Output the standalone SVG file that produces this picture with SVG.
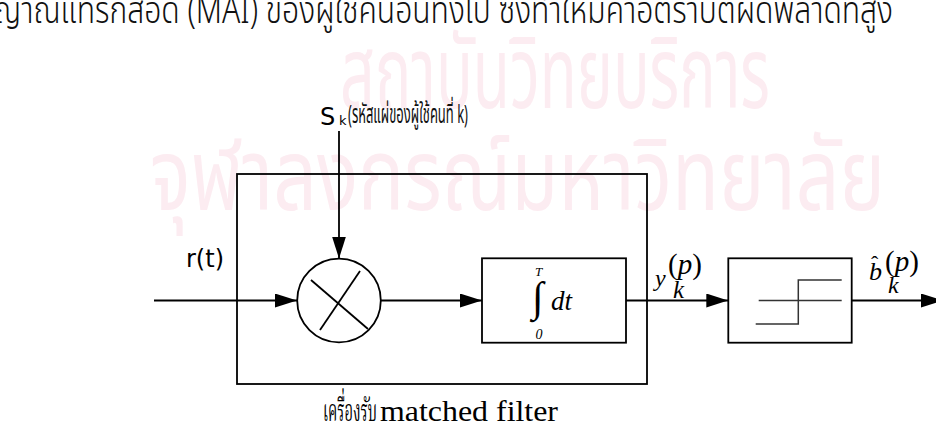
<svg xmlns="http://www.w3.org/2000/svg" width="936" height="442" viewBox="0 0 936 442">
<style>
.ln{stroke:#000;stroke-width:1.8;fill:none}
.bx{stroke:#000;stroke-width:1.8;fill:none}
.th{stroke:#333;stroke-width:1.5;fill:none}
.wm{fill:#fcecf1;font-family:"Noto Sans Thai","Noto Sans",sans-serif}
.sans{font-family:"DejaVu Sans","Noto Sans Thai",sans-serif;fill:#000}
.thai{font-family:"Noto Sans Thai","Noto Sans","DejaVu Sans",sans-serif;fill:#111}
.math{font-family:"Liberation Serif","Times New Roman",serif;font-style:italic;fill:#000}
.serif{font-family:"Liberation Serif","Noto Serif Thai","Times New Roman",serif;fill:#000}
</style>
<defs>
<marker id="ar" markerUnits="userSpaceOnUse" markerWidth="22" markerHeight="14" refX="22" refY="7" orient="auto">
<path d="M0,0 L22,7 L0,14 Z" fill="#000"/>
</marker>
</defs>
<rect width="936" height="442" fill="#fff"/>
<g id="watermark">
<text class="wm" x="340" y="108" font-size="100" textLength="430" lengthAdjust="spacingAndGlyphs">สถาบันวิทยบริการ</text>
<text class="wm" x="150" y="210" font-size="100" textLength="735" lengthAdjust="spacingAndGlyphs">จุฬาลงกรณ์มหาวิทยาลัย</text>
</g>
<text class="thai" x="-6" y="23" font-size="38" font-weight="300" textLength="899" lengthAdjust="spacingAndGlyphs">ญาณแทรกสอด (MAI) ของผู้ใช้คนอื่นทั้งไป ซึ่งทำให้มีค่าอัตราบิตผิดพลาดที่สูง</text>
<g id="label-sk">
<text class="sans" x="320" y="125" font-size="24">S</text>
<text class="sans" x="339" y="125" font-size="13">k</text>
<text class="thai" x="348" y="123" font-size="26" textLength="120" lengthAdjust="spacingAndGlyphs">(รหัสแผ่ของผู้ใช้คนที่ k)</text>
</g>
<g id="label-rt"><text class="sans" x="186" y="267" font-size="24">r(t)</text></g>
<g id="receiver">
<rect class="bx" x="237" y="174" width="410" height="210"/>
</g>
<g id="multiplier">
<circle class="bx" cx="339" cy="300.5" r="41.8"/>
<line class="ln" x1="311" y1="280" x2="368" y2="329" stroke-width="1.3"/>
<line class="ln" x1="360" y1="271" x2="320" y2="330" stroke-width="1.3"/>
</g>
<g id="integrator">
<rect class="bx" x="482" y="258.3" width="144" height="84.4"/>
<text class="math" x="535" y="276" font-size="13">T</text>
<text class="serif" x="532" y="311" font-size="42">∫</text>
<text class="math" x="551" y="310" font-size="27">dt</text>
<text class="math" x="535.5" y="339" font-size="14">0</text>
</g>
<g id="threshold">
<rect class="bx" x="728.3" y="258.3" width="123.4" height="84.4"/>
<line class="th" x1="758.7" y1="300.5" x2="841.7" y2="300.5"/>
<path class="th" d="M755.7,324 H798.3 V280 H841.7"/>
</g>
<g id="label-y">
<text class="math" x="655" y="286" font-size="24">y</text>
<text class="serif" x="668" y="274" font-size="29">(<tspan font-style="italic">p</tspan>)</text>
<text class="math" x="673" y="298" font-size="25">k</text>
</g>
<g id="label-b">
<text class="math" x="869" y="280" font-size="26">b</text>
<text class="serif" x="871" y="271" font-size="22">ˆ</text>
<text class="serif" x="885" y="271" font-size="29">(<tspan font-style="italic">p</tspan>)</text>
<text class="math" x="888" y="293" font-size="24">k</text>
</g>
<g id="connectors">
<path class="ln" d="M154,300.5 H297" marker-end="url(#ar)"/>
<path class="ln" d="M339,131 V258.5" marker-end="url(#ar)"/>
<path class="ln" d="M380.8,300.5 H482" marker-end="url(#ar)"/>
<path class="ln" d="M626,300.5 H728.3" marker-end="url(#ar)"/>
<path class="ln" d="M851.7,300.5 H943" marker-end="url(#ar)"/>
</g>
<g id="caption">
<text class="serif" x="323" y="420.7" font-size="31" textLength="54" lengthAdjust="spacingAndGlyphs">เครื่องรับ</text>
<text class="serif" x="380" y="420.7" font-size="30" textLength="178" lengthAdjust="spacingAndGlyphs">matched filter</text>
</g>
</svg>
